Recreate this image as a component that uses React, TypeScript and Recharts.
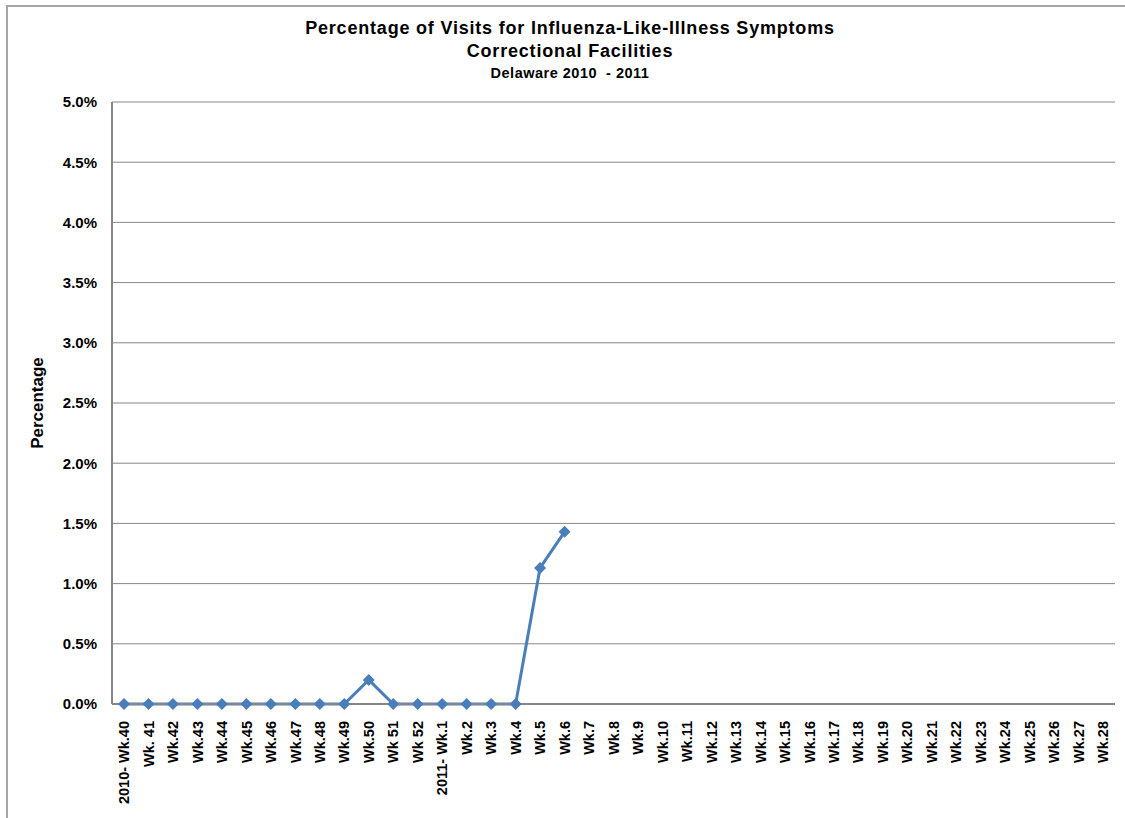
import { CartesianGrid, Line, LineChart, XAxis, YAxis } from 'recharts'

// weeks of the 2010-2011 season, as labelled on the x axis
const WEEKS = [
	'2010- Wk.40', 'Wk. 41', 'Wk.42', 'Wk.43', 'Wk.44', 'Wk.45', 'Wk.46', 'Wk.47',
	'Wk.48', 'Wk.49', 'Wk.50', 'Wk 51', 'Wk 52', '2011- Wk.1', 'Wk.2', 'Wk.3',
	'Wk.4', 'Wk.5', 'Wk.6', 'Wk.7', 'Wk.8', 'Wk.9', 'Wk.10', 'Wk.11', 'Wk.12',
	'Wk.13', 'Wk.14', 'Wk.15', 'Wk.16', 'Wk.17', 'Wk.18', 'Wk.19', 'Wk.20',
	'Wk.21', 'Wk.22', 'Wk.23', 'Wk.24', 'Wk.25', 'Wk.26', 'Wk.27', 'Wk.28'
]

// percent of visits, only reported through Wk.6
const PERCENT: Array<number | null> = [
	0, 0, 0, 0, 0, 0, 0, 0, 0, 0, 0.2, 0, 0, 0, 0, 0, 0, 1.13, 1.43
]

const Y_TICKS = [0, 0.5, 1, 1.5, 2, 2.5, 3, 3.5, 4, 4.5, 5]

const data = WEEKS.map((week, i) => ({
	week,
	pct: i < PERCENT.length ? PERCENT[i] : null
}))

const FONT = '"Liberation Sans", Arial, sans-serif'
const BLUE = '#4a7ebb'
const GRAY = '#868686'

function WeekTick(props: any) {
	const { x, y, payload } = props
	const ty = y + 15
	return (
		<text
			x={x}
			y={ty}
			transform={`rotate(-90, ${x}, ${ty})`}
			textAnchor="end"
			dy="0.36em"
			fontFamily={FONT}
			fontWeight="bold"
			fontSize={14.5}
			fill="#000"
		>
			{payload.value}
		</text>
	)
}

function Diamond(props: any) {
	const { cx, cy, value } = props
	if (value == null || cx == null || cy == null) return null
	const r = 6
	return (
		<polygon
			points={`${cx},${cy - r} ${cx + r},${cy} ${cx},${cy + r} ${cx - r},${cy}`}
			fill={BLUE}
		/>
	)
}

export default function App() {
	return (
		<div
			style={{
				position: 'absolute',
				left: 0,
				top: 0,
				width: 1125,
				height: 818,
				background: '#fff',
				fontFamily: FONT,
				overflow: 'hidden'
			}}
		>
			<div
				style={{
					position: 'absolute',
					left: 6,
					top: 5,
					width: 1130,
					height: 830,
					borderTop: '2px solid #a6a6a6',
					borderLeft: '2px solid #a6a6a6'
				}}
			/>
			<div
				style={{
					position: 'absolute',
					left: 0,
					width: 1140,
					top: 17,
					textAlign: 'center',
					fontWeight: 'bold',
					color: '#000'
				}}
			>
				<div style={{ fontSize: 18, lineHeight: '23px', letterSpacing: 0.8 }}>
					Percentage of Visits for Influenza-Like-Illness Symptoms
				</div>
				<div style={{ fontSize: 18, lineHeight: '23px', letterSpacing: 0.8 }}>
					Correctional Facilities
				</div>
				<div style={{ fontSize: 14.5, lineHeight: '21px', letterSpacing: 0.5 }}>
					Delaware 2010 &nbsp;- 2011
				</div>
			</div>
			<div style={{ position: 'absolute', left: 0, top: 0 }}>
				<LineChart
					width={1125}
					height={818}
					data={data}
					margin={{ top: 102, right: 10, bottom: 0, left: 0 }}
				>
					<CartesianGrid vertical={false} stroke={GRAY} strokeWidth={1} />
					<XAxis
						dataKey="week"
						interval={0}
						height={114}
						padding={{ left: 12, right: 12 }}
						tick={<WeekTick />}
						tickLine={false}
						tickSize={0}
						axisLine={{ stroke: GRAY, strokeWidth: 2 }}
					/>
					<YAxis
						width={112}
						domain={[0, 5]}
						ticks={Y_TICKS}
						tickFormatter={(v: number) => `${v.toFixed(1)}%`}
						tickLine={false}
						tickSize={0}
						tickMargin={15}
						axisLine={{ stroke: GRAY, strokeWidth: 2 }}
						tick={{ fontFamily: FONT, fontWeight: 'bold', fontSize: 15, fill: '#000' }}
						label={{
							value: 'Percentage',
							angle: -90,
							position: 'insideLeft',
							offset: 37,
							style: {
								fontFamily: FONT,
								fontWeight: 'bold',
								fontSize: 17,
								fill: '#000',
								textAnchor: 'middle'
							}
						}}
					/>
					<Line
						dataKey="pct"
						stroke={BLUE}
						strokeWidth={3}
						dot={<Diamond />}
						activeDot={false}
						connectNulls={false}
						isAnimationActive={false}
					/>
				</LineChart>
			</div>
		</div>
	)
}
